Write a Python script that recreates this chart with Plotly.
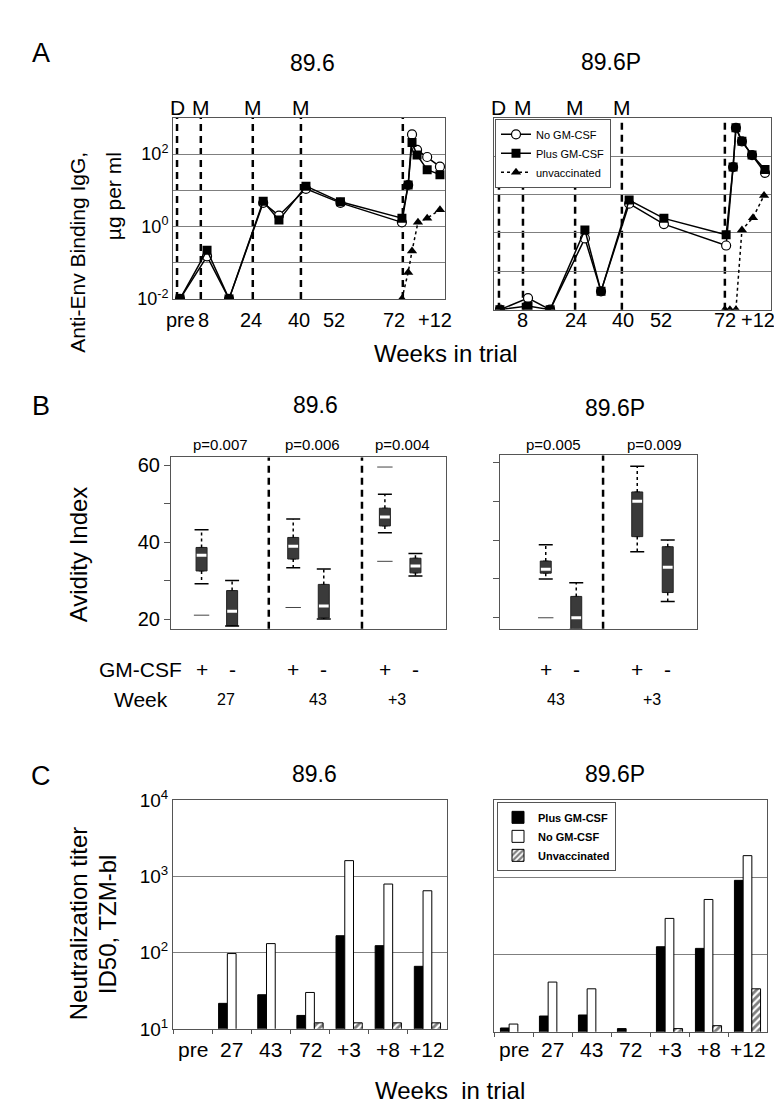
import plotly.graph_objects as go

W, H = 782, 1117
FONT = "Liberation Sans, Arial, sans-serif"


def px(x):
    return x / W


def py(y):
    return 1 - y / H


# ---------------- Panel A data (binding IgG, ug/ml) ----------------
A1_weeks = [0, 9.1, 16.5, 28, 33.3, 42.4, 54, 74.7, 76.8, 78.1, 79.8, 83.2, 87.5]
A1_plus = [0.01, 0.22, 0.01, 5.0, 1.5, 13, 4.8, 1.7, 14, 210, 94, 37, 27]
A1_no = [0.01, 0.15, 0.01, 4.5, 2.0, 11, 4.5, 1.3, 14, 350, 130, 83, 45]
A1_unvac_weeks = [74.7, 76.8, 78.1, 80.1, 83.2, 87.5]
A1_unvac = [0.01, 0.054, 0.21, 1.3, 1.7, 2.9]
A1_immun_weeks = [-1, 7, 24.5, 40.7, 75]
A1_immun_labels = ["D", "M", "M", "M", ""]
A1_xtick_vals = [0, 8, 24, 40, 52, 72, 86]
A1_xtick_text = ["pre", "8", "24", "40", "52", "72", "+12"]

A2_weeks = [0.6, 9.5, 16.5, 27.5, 32.6, 41.5, 52.5, 72.2, 74.4, 75.3, 77.2, 80.4, 84.5]
A2_plus = [0.01, 0.0125, 0.01, 1.2, 0.03, 7.2, 2.4, 0.9, 52, 550, 245, 107, 45]
A2_no = [0.01, 0.02, 0.01, 0.72, 0.03, 5.8, 1.7, 0.47, 52, 550, 245, 107, 37]
A2_unvac_weeks = [71.8, 73.4, 75.3, 77.2, 80.7, 84.2]
A2_unvac = [0.01, 0.01, 0.01, 1.2, 2.5, 9.5]
A2_immun_weeks = [0.3, 7.9, 24.4, 39.2, 71.8]
A2_immun_labels = ["D", "M", "M", "M", ""]
A2_xtick_vals = [7.9, 24.7, 39.6, 51.6, 71.8, 82.3]
A2_xtick_text = ["8", "24", "40", "52", "72", "+12"]

A_ytick_vals = [0.01, 1, 100]
A_ytick_text = ["10<sup>-2</sup>", "10<sup>0</sup>", "10<sup>2</sup>"]
A_grid_vals = [0.01, 0.1, 1, 10, 100, 1000]

# ---------------- Panel B data (avidity index) ----------------
B1_pos = [1, 2, 4, 5, 7, 8]
B1_q1 = [32.5, 18.3, 35.6, 20.3, 44.2, 32.0]
B1_med = [36.6, 22.0, 38.9, 23.4, 46.5, 33.8]
B1_q3 = [38.6, 27.4, 41.2, 29.0, 48.8, 35.8]
B1_lo = [29.2, 18.2, 33.3, 20.0, 42.4, 31.2]
B1_hi = [43.2, 30.0, 46.0, 33.0, 52.4, 37.0]
B1_out_x = [1, 4, 7, 7]
B1_out_y = [21, 23, 59.5, 35]
B1_sign = ["+", "-", "+", "-", "+", "-"]
B1_dividers = [3.2, 6.25]
B1_week_pos = [1.79, 4.8, 7.4]
B1_week_text = ["27", "43", "+3"]
B1_p_pos = [1.62, 4.64, 7.59]
B1_p_text = ["p=0.007", "p=0.006", "p=0.004"]

B2_pos = [1.5, 2.5, 4.5, 5.5]
B2_q1 = [31.5, 17.0, 40.9, 26.5]
B2_med = [32.5, 20.0, 50.0, 33.0]
B2_q3 = [34.6, 25.5, 52.4, 38.3]
B2_lo = [30.0, 17.0, 37.0, 24.2]
B2_hi = [38.8, 29.0, 59.0, 40.0]
B2_out_x = [1.5]
B2_out_y = [20]
B2_sign = ["+", "-", "+", "-"]
B2_dividers = [3.38]
B2_week_pos = [1.84, 5.0]
B2_week_text = ["43", "+3"]
B2_p_pos = [1.77, 5.08]
B2_p_text = ["p=0.005", "p=0.009"]

B_ytick_vals = [20, 40, 60]
B_minor_vals = [30, 50]

# ---------------- Panel C data (neutralization titer) ----------------
C_weeks = ["pre", "27", "43", "72", "+3", "+8", "+12"]
C1_plus = [None, 21.6, 28, 15, 166, 123, 66]
C1_no = [None, 97, 131, 30, 1600, 790, 645]
C1_unvac = [None, None, None, 12, 12, 12, 12]
C2_plus = [11.2, 16, 16.5, 11, 126, 120, 910]
C2_no = [12.6, 44, 36, None, 293, 515, 1900]
C2_unvac = [None, None, None, None, 11, 12, 36]
C_ytick_vals = [10, 100, 1000, 10000]
C_ytick_text = ["10<sup>1</sup>", "10<sup>2</sup>", "10<sup>3</sup>", "10<sup>4</sup>"]

fig = go.Figure()

# ---------------- Panel A traces ----------------
for (xa, ya, wk, plus, no, uwk, uv, show) in [
    ("x", "y", A1_weeks, A1_plus, A1_no, A1_unvac_weeks, A1_unvac, False),
    ("x2", "y2", A2_weeks, A2_plus, A2_no, A2_unvac_weeks, A2_unvac, True),
]:
    fig.add_trace(go.Scatter(
        x=wk, y=no, xaxis=xa, yaxis=ya, mode="lines+markers", name="No GM-CSF",
        line=dict(color="black", width=1.5),
        marker=dict(symbol="circle", size=9, color="white", line=dict(color="black", width=1.2)),
        showlegend=show, legend="legend"))
    fig.add_trace(go.Scatter(
        x=wk, y=plus, xaxis=xa, yaxis=ya, mode="lines+markers", name="Plus GM-CSF",
        line=dict(color="black", width=1.5),
        marker=dict(symbol="square", size=9, color="black"),
        showlegend=show, legend="legend"))
    fig.add_trace(go.Scatter(
        x=uwk, y=uv, xaxis=xa, yaxis=ya, mode="lines+markers", name="unvaccinated",
        line=dict(color="black", width=1.5, dash="dot"),
        marker=dict(symbol="triangle-up", size=9, color="black"),
        showlegend=show, legend="legend"))

# ---------------- Panel B traces ----------------
for (xa, ya, pos, q1, med, q3, lo, hi, ox, oy) in [
    ("x3", "y3", B1_pos, B1_q1, B1_med, B1_q3, B1_lo, B1_hi, B1_out_x, B1_out_y),
    ("x4", "y4", B2_pos, B2_q1, B2_med, B2_q3, B2_lo, B2_hi, B2_out_x, B2_out_y),
]:
    wx, wy = [], []
    for p, a, b, c, d in zip(pos, q3, hi, q1, lo):
        wx += [p, p, None, p, p, None]
        wy += [a, b, None, c, d, None]
    fig.add_trace(go.Scatter(x=wx, y=wy, xaxis=xa, yaxis=ya, mode="lines",
                             line=dict(color="black", width=1.5, dash="dot"),
                             showlegend=False, hoverinfo="skip"))
    fig.add_trace(go.Scatter(x=pos + pos, y=hi + lo, xaxis=xa, yaxis=ya, mode="markers",
                             marker=dict(symbol="line-ew", size=10,
                                         line=dict(color="black", width=1.5)),
                             showlegend=False))
    fig.add_trace(go.Box(x=pos, q1=q1, median=med, q3=q3, lowerfence=q1, upperfence=q3,
                         xaxis=xa, yaxis=ya, width=0.36, fillcolor="#3a3a3a",
                         line=dict(color="#222222", width=1), showlegend=False,
                         boxpoints=False))
    fig.add_trace(go.Scatter(x=pos, y=med, xaxis=xa, yaxis=ya, mode="markers",
                             marker=dict(symbol="line-ew", size=7,
                                         line=dict(color="white", width=3)),
                             showlegend=False))
    fig.add_trace(go.Scatter(x=ox, y=oy, xaxis=xa, yaxis=ya, mode="markers",
                             marker=dict(symbol="line-ew", size=11,
                                         line=dict(color="#444444", width=1)),
                             showlegend=False))

# ---------------- Panel C traces ----------------
for (xa, ya, plus, no, uv, show) in [
    ("x5", "y5", C1_plus, C1_no, C1_unvac, False),
    ("x6", "y6", C2_plus, C2_no, C2_unvac, True),
]:
    fig.add_trace(go.Bar(x=C_weeks, y=plus, xaxis=xa, yaxis=ya, name="Plus GM-CSF",
                         marker=dict(color="black", line=dict(color="black", width=1)),
                         showlegend=show, legend="legend2"))
    fig.add_trace(go.Bar(x=C_weeks, y=no, xaxis=xa, yaxis=ya, name="No GM-CSF",
                         marker=dict(color="white", line=dict(color="black", width=1)),
                         showlegend=show, legend="legend2"))
    fig.add_trace(go.Bar(x=C_weeks, y=uv, xaxis=xa, yaxis=ya, name="Unvaccinated",
                         marker=dict(color="white", line=dict(color="black", width=1),
                                     pattern=dict(shape="/", fgcolor="black", bgcolor="white",
                                                  size=5, solidity=0.55)),
                         showlegend=show, legend="legend2"))

# ---------------- Axes ----------------
frame = dict(showline=True, linecolor="#555555", linewidth=1, mirror=True,
             zeroline=False, fixedrange=True)


def tf(s):
    return dict(size=s, family=FONT, color="black")


grid_minor = dict(tickvals=A_grid_vals, showgrid=True, gridcolor="#7f7f7f", gridwidth=1, ticks="")

layout_axes = dict(
    xaxis=dict(domain=[px(165), px(437)], range=[-2.36, 89.2], anchor="y",
               showticklabels=False, showgrid=False, ticks="", **frame),
    yaxis=dict(domain=[py(284), py(99)], type="log", range=[-2, 3], anchor="x",
               tickvals=A_ytick_vals, ticktext=A_ytick_text, tickfont=tf(18),
               showgrid=True, gridcolor="#7f7f7f", gridwidth=1, ticks="",
               minor=grid_minor, **frame),
    xaxis2=dict(domain=[px(486), px(763)], range=[-1.27, 86.4], anchor="y2",
                showticklabels=False, showgrid=False, ticks="", **frame),
    yaxis2=dict(domain=[py(295), py(99)], type="log", range=[-2, 3], anchor="x2",
                tickvals=A_grid_vals, showticklabels=False,
                showgrid=True, gridcolor="#7f7f7f", gridwidth=1, ticks="", **frame),
    xaxis3=dict(domain=[px(163), px(438)], range=[0, 9.0], anchor="y3",
                showticklabels=False, showgrid=False, ticks="", **frame),
    yaxis3=dict(domain=[py(621), py(446)], range=[17.5, 62], anchor="x3",
                tickvals=B_ytick_vals, tickfont=tf(20),
                ticks="outside", ticklen=6, tickcolor="#555555", showgrid=False,
                minor=dict(tickvals=B_minor_vals, ticks="outside", ticklen=6,
                           tickcolor="#555555", showgrid=False), **frame),
    xaxis4=dict(domain=[px(492), px(689)], range=[0, 6.46], anchor="y4",
                showticklabels=False, showgrid=False, ticks="", **frame),
    yaxis4=dict(domain=[py(621), py(444)], range=[17.2, 61.8], anchor="x4",
                tickvals=B_ytick_vals, showticklabels=False,
                ticks="outside", ticklen=6, tickcolor="#555555", showgrid=False,
                minor=dict(tickvals=B_minor_vals, ticks="outside", ticklen=6,
                           tickcolor="#555555", showgrid=False), **frame),
    xaxis5=dict(domain=[px(165), px(439)], anchor="y5", type="category",
                categoryorder="array", categoryarray=C_weeks, range=[-0.5, 6.5],
                showticklabels=False, ticks="outside", tickson="boundaries", ticklen=4,
                tickcolor="#555555", showgrid=False, **frame),
    yaxis5=dict(domain=[py(1030), py(796)], type="log", range=[1, 4], anchor="x5",
                tickvals=C_ytick_vals, ticktext=C_ytick_text, tickfont=tf(19),
                showgrid=True, gridcolor="#7f7f7f", ticks="", **frame),
    xaxis6=dict(domain=[px(486), px(759)], anchor="y6", type="category",
                categoryorder="array", categoryarray=C_weeks, range=[-0.5, 6.5],
                showticklabels=False, ticks="outside", tickson="boundaries", ticklen=4,
                tickcolor="#555555", showgrid=False, **frame),
    yaxis6=dict(domain=[py(1033), py(796)], type="log", range=[1, 4], anchor="x6",
                tickvals=C_ytick_vals, showticklabels=False,
                showgrid=True, gridcolor="#7f7f7f", ticks="", **frame),
)

# ---------------- Shapes (dashed immunization / divider lines) ----------------
shapes = []
for xr, yr, wks in [("x", "y", A1_immun_weeks), ("x2", "y2", A2_immun_weeks),
                    ("x3", "y3", B1_dividers), ("x4", "y4", B2_dividers)]:
    for w in wks:
        shapes.append(dict(type="line", xref=xr, yref=yr + " domain",
                           x0=w, x1=w, y0=0, y1=1, layer="below",
                           line=dict(color="black", width=2.5, dash="7px,5px")))

# ---------------- Annotations ----------------
anns = []


def ann(text, x, y, size, xref="paper", **kw):
    d = dict(text=text, x=x if xref != "paper" else px(x), y=py(y), xref=xref, yref="paper",
             showarrow=False, font=tf(size), xanchor="center", yanchor="middle")
    d.update(kw)
    anns.append(d)


# panel letters and titles
ann("A", 33, 33, 27)
ann("B", 33, 393, 27)
ann("C", 33, 772, 27)
ann("89.6", 304, 43, 23)
ann("89.6P", 603, 42, 23)
ann("89.6", 307, 392, 23)
ann("89.6P", 607, 396, 23)
ann("89.6", 306, 770, 23)
ann("89.6P", 607, 770, 23)

# D / M labels
for xr, wks, labs in [("x", A1_immun_weeks, A1_immun_labels), ("x2", A2_immun_weeks, A2_immun_labels)]:
    for w, l in zip(wks, labs):
        if l:
            ann(l, w, 88, 21, xref=xr)

# x tick labels of panels A and C (placed on the data scale)
for xr, vals, txt in [("x", A1_xtick_vals, A1_xtick_text), ("x2", A2_xtick_vals, A2_xtick_text)]:
    for v, t in zip(vals, txt):
        ann(t, v, 306, 20, xref=xr)
for xr in ["x5", "x6"]:
    for i, c in enumerate(C_weeks):
        ann(c, i, 1051, 21, xref=xr)

# axis titles
ann("Anti-Env Binding IgG,", 70, 132, 21, textangle=-90, yanchor="top")
ann("µg per ml", 105, 132, 21, textangle=-90, yanchor="top")
ann("Weeks in trial", 438, 340, 24)
ann("Avidity Index", 70, 545, 24, textangle=-90)
ann("Neutralization titer", 70, 923, 24, textangle=-90)
ann("ID50, TZM-bl", 99, 923, 24, textangle=-90)
ann("Weeks  in trial", 442, 1093, 24)

# panel B labels
for xr, pos, signs in [("x3", B1_pos, B1_sign), ("x4", B2_pos, B2_sign)]:
    for p, s in zip(pos, signs):
        ann(s, p, 663, 21, xref=xr)
for xr, pos, txt in [("x3", B1_week_pos, B1_week_text), ("x4", B2_week_pos, B2_week_text)]:
    for p, t in zip(pos, txt):
        ann(t, p, 693, 16, xref=xr)
for xr, pos, txt in [("x3", B1_p_pos, B1_p_text), ("x4", B2_p_pos, B2_p_text)]:
    for p, t in zip(pos, txt):
        ann(t, p, 433, 15, xref=xr)
ann("GM-CSF", 132, 663, 21)
ann("Week", 133, 693, 21)

fig.update_layout(
    width=W, height=H, margin=dict(l=0, r=0, t=0, b=0),
    paper_bgcolor="white", plot_bgcolor="white",
    font=dict(family=FONT, color="black"),
    barmode="group", bargap=0.33, bargroupgap=0,
    shapes=shapes, annotations=anns,
    legend=dict(x=px(487), y=py(100), xanchor="left", yanchor="top",
                bgcolor="white", bordercolor="#555555", borderwidth=1,
                font=dict(size=11, family=FONT), itemwidth=30, tracegroupgap=0),
    legend2=dict(x=px(489), y=py(798), xanchor="left", yanchor="top",
                 bgcolor="white", bordercolor="#555555", borderwidth=1,
                 font=dict(size=11, family=FONT, weight="bold"), itemwidth=30,
                 tracegroupgap=0),
    **layout_axes,
)

fig.write_html("out.html")
